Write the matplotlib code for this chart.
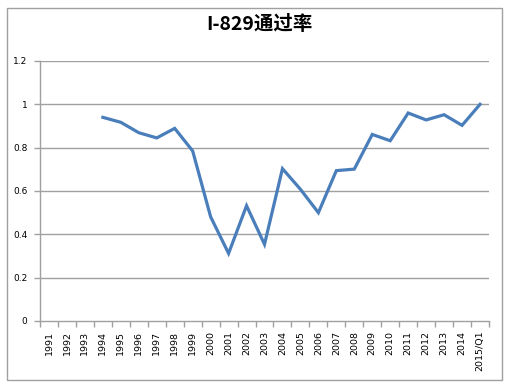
import numpy as np
import matplotlib
matplotlib.use("Agg")
import matplotlib.pyplot as plt
import matplotlib.patches as patches

plt.rcParams["font.family"] = ["DejaVu Sans", "Noto Sans CJK SC"]

# ==========================================================
# data
years = [str(y) for y in range(1991, 2015)] + ["2015/Q1"]
# no values for 1991-1993
rates = [np.nan, np.nan, np.nan,
         0.94, 0.917, 0.869, 0.845, 0.889, 0.785, 0.481, 0.312, 0.532,
         0.354, 0.703, 0.608, 0.50, 0.694, 0.701, 0.861, 0.832, 0.96,
         0.928, 0.952, 0.903, 1.0]
y_ticks = [0, 0.2, 0.4, 0.6, 0.8, 1, 1.2]
y_labels = ["0", "0.2", "0.4", "0.6", "0.8", "1", "1.2"]
title = "I-829通过率"

W, H = 516, 392
grey = "#a0a0a0"

fig = plt.figure(figsize=(W / 100, H / 100), dpi=100)

# outer chart border
fig.add_artist(patches.Rectangle((7 / W, 1 - 380 / H), 495 / W, 372 / H,
                                 transform=fig.transFigure, fill=False,
                                 edgecolor=grey, linewidth=1.0))

ax = fig.add_axes([40 / W, 1 - 321 / H, 449 / W, 260 / H])

x = np.arange(len(years))
ax.plot(x, rates, color="#4a7ebb", linewidth=2.3, solid_joinstyle="miter")

ax.set_xlim(-0.5, len(years) - 0.5)
ax.set_ylim(0, 1.2)

# horizontal grid
for yv in y_ticks[1:]:
    ax.axhline(yv, color=grey, linewidth=1.0, zorder=0)

ax.set_yticks(y_ticks)
ax.set_yticklabels(y_labels, fontsize=6.5)
ax.tick_params(axis="y", length=4, color=grey, pad=5, width=1.0)

ax.set_xticks(x)
ax.set_xticklabels(years, rotation=90, fontsize=6.8)
ax.tick_params(axis="x", which="major", length=0, pad=7)
ax.set_xticks(np.arange(len(years) + 1) - 0.5, minor=True)
ax.tick_params(axis="x", which="minor", length=4, color=grey, width=1.0)

for side in ["top", "right"]:
    ax.spines[side].set_visible(False)
for side in ["left", "bottom"]:
    ax.spines[side].set_color(grey)
    ax.spines[side].set_linewidth(1.0)

fig.text(259 / W, 1 - 24 / H, title, ha="center", va="center",
         fontsize=14, fontweight="bold",
         family=["Noto Sans CJK SC", "DejaVu Sans"])

fig.savefig("out.png", dpi=100)
